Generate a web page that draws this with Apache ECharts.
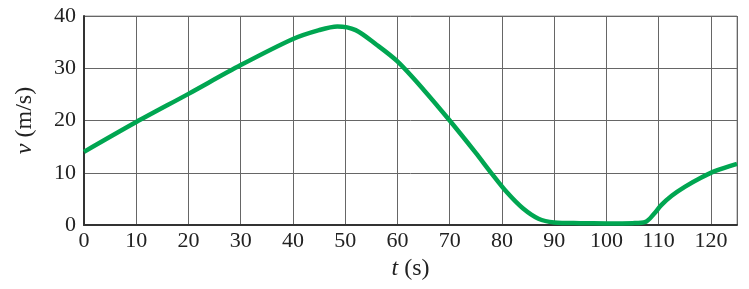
<!DOCTYPE html>
<html><head><meta charset="utf-8">
<script src="https://cdn.jsdelivr.net/npm/echarts@6/dist/echarts.min.js"></script>
<style>html,body{margin:0;padding:0;background:#fff}#c{width:749px;height:289px}</style>
</head><body><div id="c"></div>
<script>
const times = [0, 10, 20, 30, 40, 45, 48.5, 52, 56, 60, 65, 70, 75, 78, 81, 84, 87, 90, 95, 100, 105, 107.5, 109, 110.5, 112.5, 115, 118, 121, 125];
const speeds = [14, 19.7, 25.1, 30.6, 35.6, 37.3, 38.0, 37.3, 34.5, 31.3, 25.9, 20.0, 13.8, 9.9, 6.2, 3.2, 1.2, 0.5, 0.35, 0.3, 0.35, 0.6, 2.0, 3.8, 5.6, 7.3, 9.0, 10.4, 11.7];
const xTicks = [0, 10, 20, 30, 40, 50, 60, 70, 80, 90, 100, 110, 120];
const yTicks = [0, 10, 20, 30, 40];

const font = 'Liberation Serif';
const fs = 22;
const nfs = 24;
const chart = echarts.init(document.getElementById('c'), null, {renderer: 'canvas'});
chart.setOption({
  animation: false,
  grid: {left: 84, top: 16, right: 12, bottom: 64, show: true, borderColor: '#999', borderWidth: 1},
  xAxis: {
    type: 'value', min: 0, max: 125, interval: 10,
    name: '{i|t} (s)', nameLocation: 'middle', nameGap: 30,
    nameTextStyle: {fontFamily: font, fontSize: nfs, color: '#222',
      rich: {i: {fontFamily: font, fontStyle: 'italic', fontSize: nfs, color: '#222'}}},
    axisLine: {show: true, lineStyle: {color: '#333', width: 2}},
    axisTick: {show: false},
    axisLabel: {fontFamily: font, fontSize: fs, color: '#222', margin: 5,
      formatter: v => xTicks.includes(v) ? String(v) : ''},
    splitLine: {show: true, lineStyle: {color: '#666', width: 1}}
  },
  yAxis: {
    type: 'value', min: 0, max: 40, interval: 10,
    name: '{i|v} (m/s)', nameLocation: 'middle', nameGap: 47, nameRotate: 90,
    nameTextStyle: {fontFamily: font, fontSize: nfs, color: '#222',
      rich: {i: {fontFamily: font, fontStyle: 'italic', fontSize: nfs, color: '#222'}}},
    axisLine: {show: true, lineStyle: {color: '#333', width: 2}},
    axisTick: {show: false},
    axisLabel: {fontFamily: font, fontSize: fs, color: '#222', margin: 8,
      formatter: v => yTicks.includes(v) ? String(v) : ''},
    splitLine: {show: true, lineStyle: {color: '#666', width: 1}}
  },
  series: [{
    type: 'line', smooth: 0.3, showSymbol: false, symbol: 'none',
    data: times.map((t, i) => [t, speeds[i]]),
    lineStyle: {color: '#00A651', width: 4.5},
    z: 5
  }]
});
</script></body></html>
